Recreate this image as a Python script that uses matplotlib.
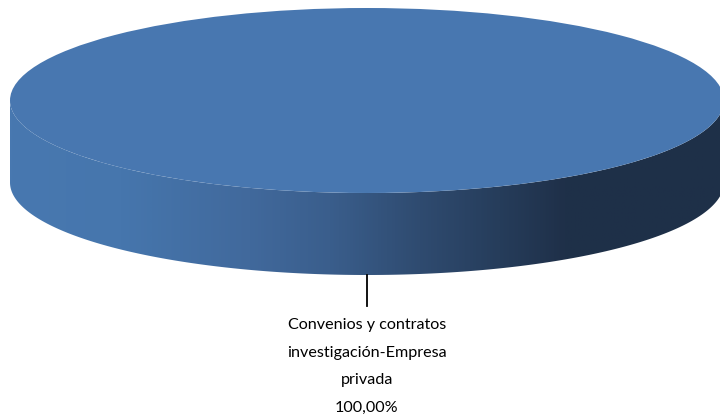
import numpy as np
import matplotlib
matplotlib.use("Agg")
import matplotlib.pyplot as plt
from matplotlib.patches import Ellipse, PathPatch
from matplotlib.path import Path
from matplotlib.colors import LinearSegmentedColormap

# Data
categories = ["Convenios y contratos investigación-Empresa privada"]
values = [100.0]
label_lines = ["Convenios y contratos", "investigación-Empresa", "privada"]

W, H = 720, 419
fig = plt.figure(figsize=(W / 100, H / 100), dpi=100)
ax = fig.add_axes([0, 0, 1, 1])
ax.set_xlim(0, W)
ax.set_ylim(H, 0)
ax.axis("off")

# Pie geometry (pixel space)
cx, cy = 367, 100.5
a, b = 357, 92.5
depth = 82

top_color = "#4877b0"

# Side wall shading stops along x
grad_stops = [(10, "#4878b0"), (120, "#4676ad"), (250, "#41699c"),
              (330, "#3a5e8c"), (420, "#2f4b70"), (500, "#263d5b"),
              (565, "#1f3049"), (724, "#1e3048")]
x0, x1 = grad_stops[0][0], grad_stops[-1][0]
cmap = LinearSegmentedColormap.from_list(
    "wall", [((x - x0) / (x1 - x0), c) for x, c in grad_stops])

total = sum(values)
fracs = [v / total for v in values]
for frac in fracs:
    theta = np.linspace(np.pi, 0, 400) if frac >= 1 else np.linspace(np.pi, np.pi - frac * np.pi, 400)
    # lower half of the top rim, then bottom rim back
    xs_top = cx + a * np.cos(theta)
    ys_top = cy + b * np.sin(theta)
    xs_bot = xs_top[::-1]
    ys_bot = cy + depth + b * np.sin(theta[::-1])
    verts = np.concatenate([np.column_stack([xs_top, ys_top]),
                            np.column_stack([xs_bot, ys_bot]),
                            [[xs_top[0], ys_top[0]]]])
    codes = [Path.MOVETO] + [Path.LINETO] * (len(verts) - 2) + [Path.CLOSEPOLY]
    wall = PathPatch(Path(verts, codes), facecolor="none", edgecolor="none")
    ax.add_patch(wall)
    grad = np.linspace(0, 1, 512).reshape(1, -1)
    img = ax.imshow(grad, cmap=cmap, aspect="auto",
                    extent=[x0, x1, cy + depth + b + 2, cy - 2], zorder=1)
    img.set_clip_path(wall)

    top = Ellipse((cx, cy), 2 * a, 2 * b, facecolor=top_color,
                  edgecolor="none", zorder=2)
    ax.add_patch(top)

# Leader line and data label
ax.plot([cx, cx], [cy + depth + b, 306], color="black", lw=1.3, zorder=3)
pct = f"{fracs[0] * 100:.2f}%".replace(".", ",")
for i, line in enumerate(label_lines + [pct]):
    ax.text(cx, 329 + i * 27.7, line, ha="center", va="baseline",
            fontsize=11.6, family="Lato", color="#000000")

fig.savefig("out.png", dpi=100)
